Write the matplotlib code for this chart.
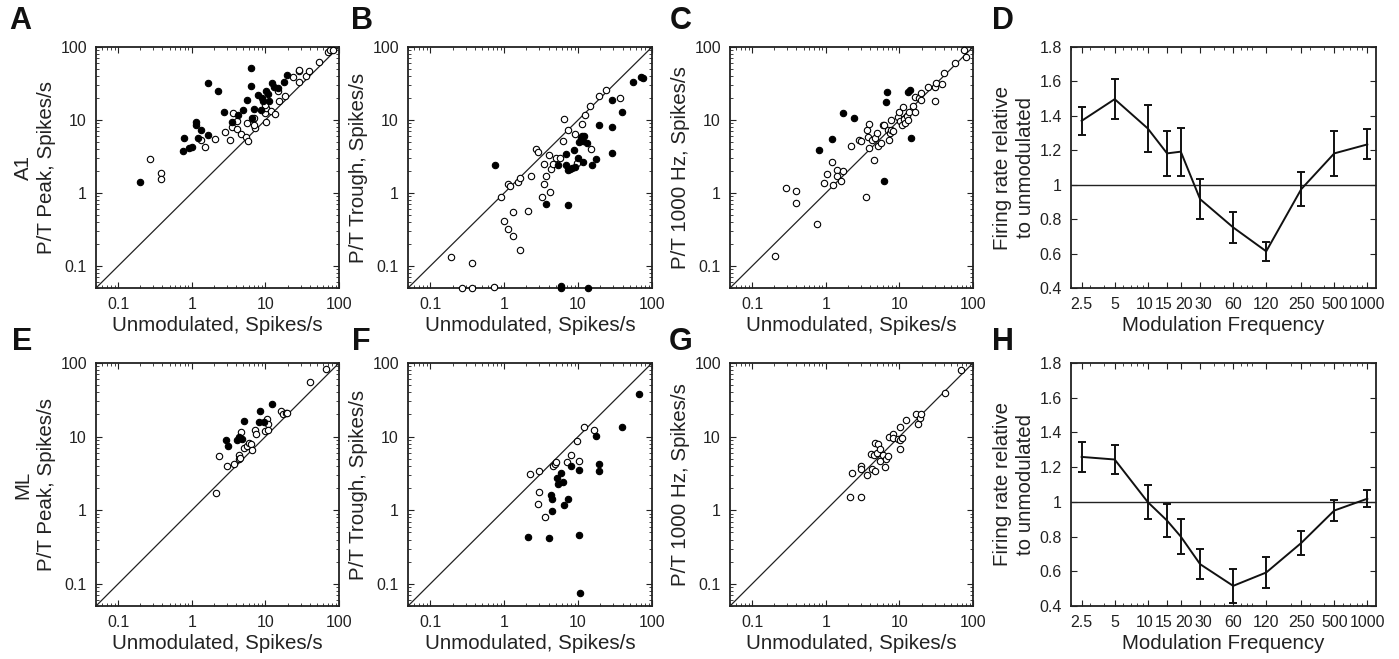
import numpy as np
import matplotlib
matplotlib.use("Agg")
import matplotlib.pyplot as plt
from matplotlib.ticker import FixedLocator, NullFormatter
from matplotlib.transforms import ScaledTranslation

plt.rcParams['font.family'] = ['Liberation Sans', 'DejaVu Sans']
plt.rcParams['text.color'] = '#222222'
plt.rcParams['axes.labelcolor'] = '#222222'
plt.rcParams['xtick.color'] = '#222222'
plt.rcParams['ytick.color'] = '#222222'

# ---- A1 scatter data (x = unmodulated rate, y = response rate) ----
a_fill_x = [0.2, 0.75, 0.78, 0.91, 1.01, 1.15, 1.15, 1.2, 1.34, 1.65, 1.65, 2.3, 2.7, 3.5, 4.2, 4.9, 5.6,
            6.3, 6.3, 6.95, 6.6, 7.96, 9.0, 9.3, 8.8, 10.3, 11, 11.3, 12.4, 13, 15, 17.9, 19.7]
a_fill_y = [1.4, 3.8, 5.7, 4.1, 4.3, 9.5, 8.5, 5.7, 7.4, 32, 6.2, 24.8, 13, 9.5, 11.6, 13.8, 18.9,
            52, 29, 14.3, 10.7, 22.3, 20.3, 18.5, 13.5, 25.3, 22.8, 18, 31.8, 28, 27.8, 33.5, 41.3]
a_open_x = [0.27, 0.377, 0.377, 1.33, 1.53, 2.1, 2.87, 3.3, 3.5, 3.65, 4.1, 4.1, 4.6, 5.4, 5.7, 5.8, 6.7,
            7.0, 7.3, 7.1, 9.8, 10.3, 10, 10.3, 12, 13.4, 15, 15.5, 18.5, 23.7, 28.3, 28.5, 28.5, 36, 39,
            52.9, 70.8, 76, 83]
a_open_y = [2.9, 1.9, 1.56, 5.3, 4.3, 5.5, 6.9, 5.3, 8.05, 12.5, 7.6, 9.8, 6.5, 5.9, 9.1, 5.15, 10.3,
            10.7, 7.8, 8.5, 12.5, 14.6, 16, 9.3, 13.3, 12.1, 25, 18.3, 21, 38.4, 47.2, 49, 33.5, 40, 47,
            62.6, 85.5, 92, 92]

b_fill_x = [0.757, 3.7, 5.37, 5.9, 5.9, 6.9, 7.3, 6.9, 7.3, 7.7, 8.3, 8.9, 9.1, 10, 10.3, 10.9, 11.2,
            12.0, 11.8, 11.8, 13, 13.8, 15.6, 17.6, 19, 28.7, 28.7, 28.7, 39.2, 54.7, 71, 75]
b_fill_y = [2.43, 0.71, 2.4, 0.054, 0.05, 3.39, 0.69, 2.43, 2.05, 2.1, 2.2, 3.88, 2.3, 3.05, 4.98, 5.7, 6.0,
            6.0, 5.1, 2.67, 4.9, 0.05, 2.4, 2.9, 8.65, 3.5, 7.96, 18.9, 12.7, 33.5, 38.4, 37.5]
b_open_x = [0.19, 0.27, 0.37, 0.37, 0.72, 0.9, 1.0, 1.14, 1.33, 1.33, 1.14, 1.2, 1.56, 1.65, 1.65, 2.08,
            2.28, 2.7, 2.85, 3.29, 3.5, 3.45, 3.7, 4.2, 4.1, 4.3, 4.6, 5.0, 5.7, 6.2, 6.35, 7.2, 9.1, 9.8,
            11.2, 12.5, 14.6, 15, 19.3, 24, 37.2]
b_open_y = [0.133, 0.05, 0.05, 0.111, 0.052, 0.875, 0.42, 0.325, 0.256, 0.55, 1.33, 1.26, 1.43, 1.6, 0.165,
            0.57, 1.72, 3.96, 3.7, 0.875, 1.33, 2.48, 1.72, 1.04, 3.28, 2.1, 2.5, 3.02, 3.02, 5.1, 10.3, 7.4,
            6.5, 2.55, 8.8, 11.7, 15.4, 4.0, 21, 25.8, 19.9]

c_fill_x = [0.8, 1.21, 1.73, 2.4, 6.15, 6.5, 6.7, 13.1, 13.8, 14.4]
c_fill_y = [3.88, 5.5, 12.4, 10.5, 1.47, 17.9, 24.5, 24.2, 25.8, 5.7]
c_open_x = [0.204, 0.284, 0.397, 0.397, 0.75, 0.95, 1.05, 1.2, 1.24, 1.4, 1.4, 1.62, 1.72, 2.19, 2.79, 3.0,
            3.5, 3.6, 3.75, 3.9, 3.87, 4.3, 4.5, 4.6, 4.95, 5.1, 5.6, 6.0, 6.2, 7.0, 7.2, 7.5, 7.8, 8.2,
            7.7, 9.6, 10, 10.3, 11.1, 11.5, 11, 12.1, 12.6, 13.5, 12.9, 15.4, 16.5, 16.5, 18.3, 19.9, 19.9,
            24.5, 30.3, 30.3, 31, 38, 40.5, 56.5, 74.8, 81]
c_open_y = [0.137, 1.17, 1.06, 0.73, 0.377, 1.36, 1.8, 2.64, 1.3, 2.08, 1.72, 1.46, 2.0, 4.35, 5.25, 5.1,
            0.89, 7.4, 5.9, 8.8, 4.13, 5.3, 2.84, 5.7, 6.67, 4.4, 4.9, 8.6, 8.6, 7.25, 5.4, 6.7, 7.2, 7.0,
            10.1, 11.0, 12.7, 9.6, 15, 10.4, 8.6, 9.0, 11.2, 12.8, 9.9, 15.8, 20.5, 12.8, 20.3, 18.9, 23.8,
            28, 18.5, 28, 32.5, 31, 43.5, 60.7, 92, 73]

# ---- ML scatter data ----
e_fill_x = [2.94, 3.1, 4.1, 4.4, 4.8, 5.1, 8.2, 8.4, 9.7, 12.4]
e_fill_y = [8.87, 7.5, 8.9, 10, 9.3, 16.1, 15.7, 22.4, 15.6, 28]
e_open_x = [2.15, 2.31, 3.03, 3.7, 4.32, 4.4, 4.5, 4.6, 5.2, 5.6, 6.0, 6.4, 6.65, 7.2, 7.4, 9.97, 10.5,
            10.8, 11, 16.4, 17.3, 18.8, 19.6, 39.9, 67.3]
e_open_y = [1.7, 5.5, 3.93, 4.18, 5.6, 5.0, 5.15, 11.4, 7.1, 7.5, 8.2, 8.0, 6.6, 12.4, 10.9, 12.1, 17.3,
            15, 12.4, 22, 20.3, 21, 20.7, 55, 82.8]

f_fill_x = [2.1, 4.1, 4.27, 4.4, 4.5, 5.26, 5.3, 5.8, 6.3, 6.5, 7.2, 8.05, 10.2, 10.3, 10.7, 17.6, 19, 19,
            39.6, 67.4]
f_fill_y = [0.436, 0.413, 1.63, 1.4, 0.97, 2.7, 2.3, 3.2, 2.45, 1.17, 1.4, 3.96, 3.5, 0.454, 0.0757, 10.1,
            4.27, 3.4, 13.4, 37.9]
f_open_x = [2.26, 2.96, 2.96, 2.85, 3.6, 4.54, 4.8, 5.1, 7.1, 8.05, 9.6, 10.2, 12.1, 16.2]
f_open_y = [3.12, 3.46, 1.78, 1.2, 0.81, 4.05, 4.3, 4.5, 4.49, 5.58, 8.65, 4.63, 13.6, 12.4]

g_open_x = [2.15, 2.97, 2.3, 3.0, 3.0, 3.65, 4.14, 4.3, 4.5, 4.6, 4.7, 5.1, 4.9, 5.4, 5.4, 6.0, 6.35, 6.6,
            7.1, 7.2, 8.2, 8.2, 9.7, 10.3, 10.8, 10.3, 10.3, 12.4, 16.6, 17.8, 19.2, 19.5, 41.2, 68]
g_open_y = [1.49, 1.5, 3.25, 3.93, 3.6, 2.97, 5.84, 3.6, 5.6, 3.4, 8.2, 8.0, 6.0, 6.83, 4.69, 5.7, 3.85, 4.94,
            5.5, 10, 10.9, 9.6, 9.25, 9.1, 9.5, 6.76, 13.7, 16.6, 20.5, 15, 17.9, 20.5, 39, 81]

# ---- modulation frequency tuning ----
mod_freq = [2.5, 5, 10, 15, 20, 30, 60, 120, 250, 500, 1000]
mod_labels = ['2.5', '5', '10', '15', '20', '30', '60', '120', '250', '500', '1000']
d_mean = [1.371, 1.497, 1.327, 1.182, 1.192, 0.916, 0.752, 0.613, 0.974, 1.182, 1.234]
d_err = [0.08, 0.115, 0.137, 0.13, 0.14, 0.115, 0.09, 0.055, 0.1, 0.13, 0.087]
h_mean = [1.259, 1.244, 0.999, 0.892, 0.80, 0.641, 0.516, 0.593, 0.763, 0.95, 1.018]
h_err = [0.087, 0.083, 0.097, 0.095, 0.10, 0.087, 0.097, 0.092, 0.067, 0.06, 0.05]

W, H = 1399, 659
fig = plt.figure(figsize=(W / 100, H / 100), dpi=100)


def px_axes(x0, x1, y0, y1):
    return fig.add_axes([x0 / W, 1 - y1 / H, (x1 - x0) / W, (y1 - y0) / H])


def style(ax):
    for s in ax.spines.values():
        s.set_linewidth(1.3)
        s.set_color('#222222')
    ax.tick_params(which='both', direction='in', top=True, right=True, labelsize=11.5, pad=6.5)
    ax.tick_params(which='major', length=4, width=0.8)
    ax.tick_params(which='minor', length=2, width=0.6)


def scatter_panel(ax, fx, fy, ox, oy, ylabel):
    ax.set_xscale('log')
    ax.set_yscale('log')
    ax.set_xlim(0.05, 100)
    ax.set_ylim(0.05, 100)
    ax.plot([0.05, 100], [0.05, 100], color='#222222', lw=0.9, zorder=1)
    if ox:
        ax.plot(ox, oy, 'o', ms=4.6, mfc='white', mec='black', mew=0.8, ls='none', clip_on=False, zorder=3)
    if fx:
        ax.plot(fx, fy, 'o', ms=4.6, mfc='black', mec='black', mew=0.8, ls='none', clip_on=False, zorder=4)
    ticks = [0.1, 1, 10, 100]
    ax.set_xticks(ticks)
    ax.set_xticklabels(['0.1', '1', '10', '100'])
    ax.set_yticks(ticks)
    ax.set_yticklabels(['0.1', '1', '10', '100'])
    ax.xaxis.set_minor_formatter(NullFormatter())
    ax.yaxis.set_minor_formatter(NullFormatter())
    ax.set_xlabel('Unmodulated, Spikes/s', fontsize=14.8, labelpad=3)
    ax.set_ylabel(ylabel, fontsize=14.8, linespacing=1.3, labelpad=3)
    style(ax)


def tuning_panel(ax, mean, err):
    ax.set_xscale('log')
    ax.set_xlim(2.0, 1200)
    ax.set_ylim(0.4, 1.8)
    ax.axhline(1.0, color='#222222', lw=1.0, zorder=1)
    ax.errorbar(mod_freq, mean, yerr=err, color='#111111', lw=1.4, elinewidth=1.4, capsize=3.2,
                capthick=1.4, zorder=3)
    ax.xaxis.set_major_locator(FixedLocator(mod_freq))
    ax.set_xticklabels(mod_labels)
    ax.xaxis.set_minor_formatter(NullFormatter())
    yt = [0.4, 0.6, 0.8, 1.0, 1.2, 1.4, 1.6, 1.8]
    ax.set_yticks(yt)
    ax.set_yticklabels(['0.4', '0.6', '0.8', '1', '1.2', '1.4', '1.6', '1.8'])
    ax.set_xlabel('Modulation Frequency', fontsize=14.8, labelpad=3)
    ax.set_ylabel('Firing rate relative\nto unmodulated', fontsize=14.8, linespacing=1.3, labelpad=3)
    style(ax)
    # labels around 10-30 are crowded, nudge them apart a little
    nudge = {'10': -3, '15': -3, '20': 3, '30': 3}
    for lab in ax.get_xticklabels():
        dx = nudge.get(lab.get_text(), 0)
        if dx:
            lab.set_transform(lab.get_transform() + ScaledTranslation(dx / 100, 0, fig.dpi_scale_trans))


top = (47, 288)
bot = (363, 606)
cols = [(96, 339), (408, 652), (730, 973), (1071, 1376)]

axA = px_axes(*cols[0], *top)
scatter_panel(axA, a_fill_x, a_fill_y, a_open_x, a_open_y, 'A1\nP/T Peak, Spikes/s')
axB = px_axes(*cols[1], *top)
scatter_panel(axB, b_fill_x, b_fill_y, b_open_x, b_open_y, 'P/T Trough, Spikes/s')
axC = px_axes(*cols[2], *top)
scatter_panel(axC, c_fill_x, c_fill_y, c_open_x, c_open_y, 'P/T 1000 Hz, Spikes/s')
axD = px_axes(*cols[3], *top)
tuning_panel(axD, d_mean, d_err)

axE = px_axes(*cols[0], *bot)
scatter_panel(axE, e_fill_x, e_fill_y, e_open_x, e_open_y, 'ML\nP/T Peak, Spikes/s')
axF = px_axes(*cols[1], *bot)
scatter_panel(axF, f_fill_x, f_fill_y, f_open_x, f_open_y, 'P/T Trough, Spikes/s')
axG = px_axes(*cols[2], *bot)
scatter_panel(axG, [], [], g_open_x, g_open_y, 'P/T 1000 Hz, Spikes/s')
axH = px_axes(*cols[3], *bot)
tuning_panel(axH, h_mean, h_err)

letters = [('A', 20, 21), ('B', 362, 21), ('C', 681, 21), ('D', 1003, 21),
           ('E', 22, 342), ('F', 361, 342), ('G', 681, 342), ('H', 1003, 342)]
for s, x, y in letters:
    fig.text(x / W, 1 - y / H, s, fontsize=22, fontweight='bold', ha='center', va='center', color='#111111')

fig.savefig('out.png', dpi=100)
